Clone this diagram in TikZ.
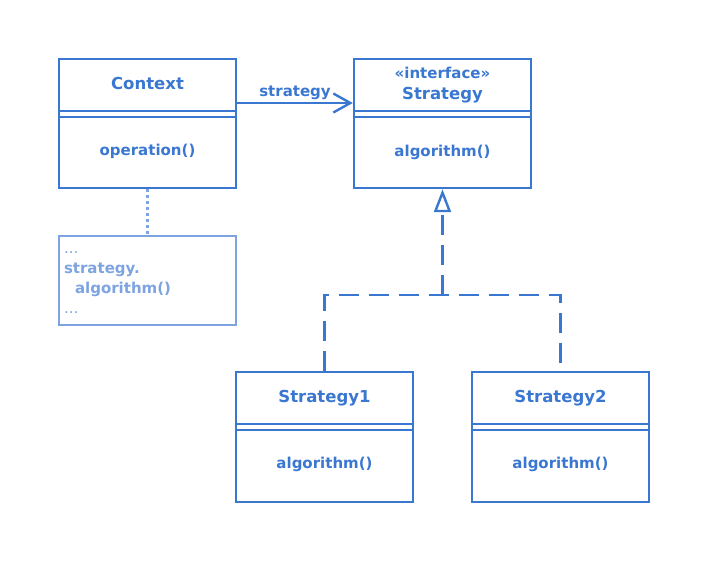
\documentclass[tikz,border=0pt]{standalone}
\usepackage{fontspec}
\setmainfont{DejaVu Sans}
\usetikzlibrary{calc,positioning,arrows.meta}
\definecolor{umlblue}{HTML}{3A77D0}
\definecolor{noteblue}{HTML}{7DA4E0}
\tikzset{
  class box/.style={draw=umlblue, line width=2.4pt, rectangle,
    minimum width=177pt, minimum height=129pt, inner sep=0pt},
  class name/.style={text=umlblue, font=\fontsize{16.5}{20}\selectfont\bfseries},
  member/.style={text=umlblue, font=\fontsize{15}{18}\selectfont\bfseries},
  sep line/.style={draw=umlblue, line width=1.5pt},
  realize/.style={draw=umlblue, line width=2.6pt, dash pattern=on 20pt off 10pt},
  note box/.style={draw=noteblue, line width=2.4pt, rectangle,
    minimum width=177pt, minimum height=89pt, inner sep=0pt},
  note text/.style={text=noteblue, font=\fontsize{15}{20}\selectfont\bfseries,
    anchor=base west, inner sep=0pt},
  note dots/.style={text=noteblue, font=\fontsize{15}{20}\selectfont,
    anchor=base west, inner sep=0pt}
}

\begin{document}
\begin{tikzpicture}[x=1pt,y=1pt]

  \useasboundingbox (0,0) rectangle (710,-563);

  % class boxes
  \node (ctx) [class box] at (147.5,-123.5) {};
  \node (strat) [class box] at (442.5,-123.5) {};
  \node (strat1) [class box,minimum height=130pt] at (324.5,-437) {};
  \node (strat2) [class box,minimum height=130pt] at (560.5,-437) {};

  \foreach \b in {ctx,strat,strat1,strat2}
  {
    \draw[sep line] ($(\b.north west)+(0,-53)$) -- ($(\b.north east)+(0,-53)$);
    \draw[sep line] ($(\b.north west)+(0,-59)$) -- ($(\b.north east)+(0,-59)$);
  }

  \node (ctxname) [class name] at ($(ctx.north)+(0,-26)$) {Context};
  \node (ctxop) [member] at ($(ctx.north)+(0,-94)$) {operation()};

  \node (stratstereo) [member] at ($(strat.north)+(0,-15)$) {«interface»};
  \node (stratname) [class name] at ($(strat.north)+(0,-37)$) {Strategy};
  \node (stratop) [member] at ($(strat.north)+(0,-95)$) {algorithm()};

  \node (strat1name) [class name] at ($(strat1.north)+(0,-27)$) {Strategy1};
  \node (strat1op) [member] at ($(strat1.north)+(0,-94)$) {algorithm()};
  \node (strat2name) [class name] at ($(strat2.north)+(0,-27)$) {Strategy2};
  \node (strat2op) [member] at ($(strat2.north)+(0,-94)$) {algorithm()};

  % note
  \node (note) [note box] at (147.5,-280.5) {};
  \node (notedots1) [note dots] at ($(note.north west)+(6,-19)$) {...};
  \node (notecall) [note text] at ($(note.north west)+(6,-39)$) {strategy.};
  \node (notecall2) [note text] at ($(note.north west)+(17,-59)$) {algorithm()};
  \node (notedots2) [note dots] at ($(note.north west)+(6,-79)$) {...};

  \draw[draw=noteblue, line width=2.6pt, dash pattern=on 3pt off 3pt] (ctx.south) -- (note.north);

  % association
  \draw[draw=umlblue, line width=2.4pt, -{Straight Barb[length=17pt,width=19pt]}]
    ($(ctx.east)+(0,20.5)$) -- node (assoc) [above, inner sep=2.5pt, member] {strategy}
    ($(strat.west)+(0,20.5)$);

  % realization
  \coordinate (join) at (strat.south |- 0,-295);
  \draw[realize, -{Triangle[open, length=23pt, width=17pt, line width=2.4pt]}] (join) -- (strat.south);
  \draw[realize] (strat1.north) |- (join) -| (strat2.north);

\end{tikzpicture}
\end{document}
